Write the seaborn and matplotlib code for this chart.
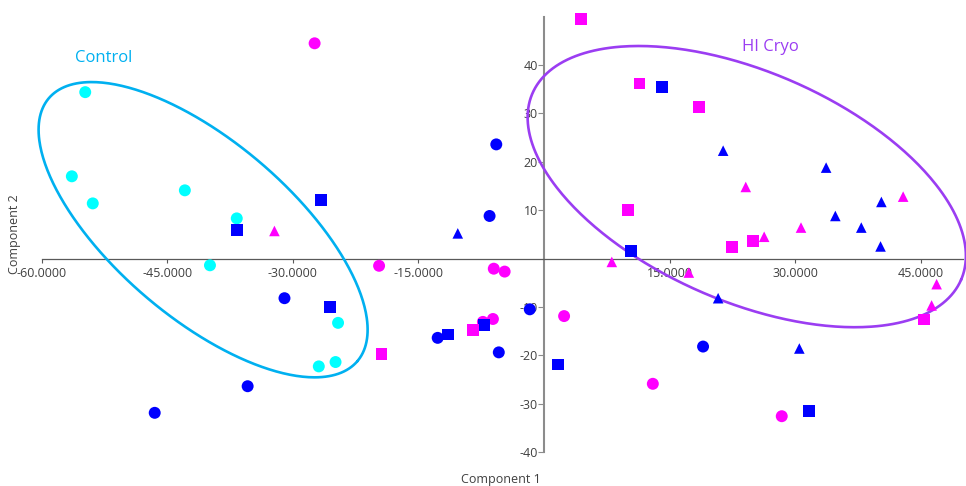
import numpy as np
import pandas as pd
import matplotlib
matplotlib.use("Agg")
import matplotlib.pyplot as plt
import seaborn as sns

# ---------------- data ----------------
cyan_circle_x = [-54.8, -56.4, -53.9, -42.9, -36.7, -39.9, -24.6, -26.9, -24.9]
cyan_circle_y = [34.4, 17.0, 11.4, 14.1, 8.3, -1.4, -13.3, -22.3, -21.4]

magenta_circle_x = [-27.4, -19.7, -6.0, -4.7, -7.3, -6.1, 2.4, 13.0, 28.4]
magenta_circle_y = [44.5, -1.5, -2.1, -2.7, -13.1, -12.5, -11.9, -25.9, -32.6]

blue_circle_x = [-5.7, -6.5, -31.0, -35.4, -46.5, -12.7, -1.7, -5.4, 19.0]
blue_circle_y = [23.6, 8.8, -8.2, -26.4, -31.9, -16.4, -10.5, -19.4, -18.2]

blue_square_x = [-26.6, -36.7, -25.6, -11.5, -7.2, 14.1, 10.4, 1.7, 31.7]
blue_square_y = [12.1, 5.9, -10.1, -15.7, -13.8, 35.5, 1.6, -21.9, -31.6]

magenta_square_x = [4.4, 11.4, 18.5, 10.0, 22.5, 25.0, -19.4, -8.5, 45.4]
magenta_square_y = [49.5, 36.2, 31.4, 10.1, 2.4, 3.6, -19.8, -14.7, -12.6]

blue_triangle_x = [-10.3, 21.4, 33.7, 34.8, 37.9, 40.3, 40.2, 20.8, 30.5]
blue_triangle_y = [5.2, 22.3, 18.8, 8.8, 6.4, 11.7, 2.5, -8.2, -18.6]

magenta_triangle_x = [-32.2, 24.1, 26.3, 30.7, 42.9, 8.1, 46.9, 46.3, 17.3]
magenta_triangle_y = [5.7, 14.8, 4.5, 6.4, 12.8, -0.7, -5.3, -9.7, -2.9]

x_ticks = [-60, -45, -30, -15, 15, 30, 45]
y_ticks = [-40, -30, -20, -10, 10, 20, 30, 40]

group_labels = ["Control", "HI Cryo"]

series = [
    ("cyan", "circle", cyan_circle_x, cyan_circle_y),
    ("magenta", "circle", magenta_circle_x, magenta_circle_y),
    ("blue", "circle", blue_circle_x, blue_circle_y),
    ("blue", "square", blue_square_x, blue_square_y),
    ("magenta", "square", magenta_square_x, magenta_square_y),
    ("blue", "triangle", blue_triangle_x, blue_triangle_y),
    ("magenta", "triangle", magenta_triangle_x, magenta_triangle_y),
]

rows = []
for col, shp, xs, ys in series:
    for xv, yv in zip(xs, ys):
        rows.append({"x": xv, "y": yv, "color": col, "shape": shp})
df = pd.DataFrame(rows)

# ---------------- styling ----------------
sns.set_theme(style="white")
plt.rcParams["font.family"] = ["Open Sans", "DejaVu Sans"]
plt.rcParams["axes.unicode_minus"] = False

palette = {"cyan": "#00FFFF", "blue": "#0000FF", "magenta": "#FF00FF"}
marker_map = {"circle": "o", "square": "s", "triangle": "^"}
size_map = {"circle": 74, "square": 72, "triangle": 58}

fig = plt.figure(figsize=(9.66, 4.86), dpi=100)
ax = fig.add_axes([41.7 / 966, 1 - 452 / 486, (963 - 41.7) / 966, (452 - 16.7) / 486])

for shp in ["circle", "square", "triangle"]:
    sub = df[df["shape"] == shp]
    sns.scatterplot(data=sub, x="x", y="y", hue="color", palette=palette,
                    marker=marker_map[shp], s=size_map[shp], linewidth=0,
                    edgecolor="none", legend=False, ax=ax, zorder=3,
                    clip_on=False)

# ellipses (center, semi-axis vectors in data units)
def draw_ellipse(cx, cy, ux, uy, vx, vy, color):
    t = np.linspace(0, 2 * np.pi, 400)
    ex = cx + ux * np.cos(t) + vx * np.sin(t)
    ey = cy + uy * np.cos(t) + vy * np.sin(t)
    ax.plot(ex, ey, color=color, lw=1.9, zorder=2, clip_on=False)

control_color = "#00B0F0"
cryo_color = "#9B3DF2"
draw_ellipse(-40.72, 5.96, 18.43, -27.18, -6.82, -13.89, control_color)
draw_ellipse(24.22, 14.87, 25.60, -19.28, -5.46, -21.76, cryo_color)

ax.text(-52.6, 41.5, group_labels[0], color=control_color, fontsize=12,
        ha="center", va="center")
ax.text(27.1, 43.7, group_labels[1], color=cryo_color, fontsize=12,
        ha="center", va="center")

# axes crossing at origin
ax.set_xlim(-60, 50.05)
ax.set_ylim(-40, 50)
for s in ["top", "right"]:
    ax.spines[s].set_visible(False)
ax.spines["left"].set_position(("data", 0))
ax.spines["bottom"].set_position(("data", 0))
ax.spines["left"].set_color("#8C8C8C")
ax.spines["left"].set_linewidth(1.5)
ax.spines["bottom"].set_color("#595959")
ax.spines["bottom"].set_linewidth(0.9)
ax.spines["left"].set_zorder(1)
ax.spines["bottom"].set_zorder(1)

ax.set_xticks(x_ticks)
ax.set_xticklabels([f"{v:.4f}" for v in x_ticks])
ax.set_yticks(y_ticks)
ax.set_yticklabels([str(v) for v in y_ticks])
ax.tick_params(axis="x", direction="out", length=3, width=0.8, color="#595959",
               pad=3, labelsize=9, labelcolor="#404040", bottom=True)
ax.tick_params(axis="y", direction="out", length=4, width=0.8, color="#8C8C8C",
               pad=0.5, labelsize=9, labelcolor="#404040", left=True)
ax.set_xlabel("")
ax.set_ylabel("")
ax.grid(False)

fig.text(501 / 966, 1 - 479 / 486, "Component 1", fontsize=9, color="#404040",
         ha="center", va="center")
fig.text(15 / 966, 1 - 234 / 486, "Component 2", fontsize=9, color="#404040",
         ha="center", va="center", rotation=90)

fig.savefig("out.png", dpi=100)
